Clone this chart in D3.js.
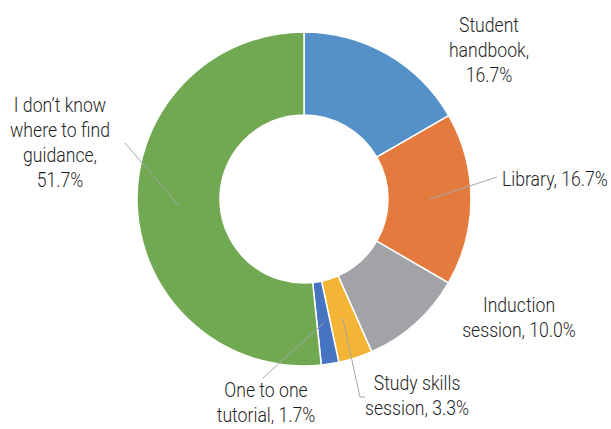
<!DOCTYPE html>
<html>
<head>
    <meta charset="utf-8" />
    <title>Guidance sources donut</title>
    <style>
        body { margin: 0; background: #fff; }
        .label { font-family: "Roboto", sans-serif; font-size: 21px; font-weight: 300; fill: #1f1f1f; }
        .leader { fill: none; stroke: #a6a6a6; stroke-width: 1px; }
    </style>
    <script src="https://cdn.jsdelivr.net/npm/d3@7"></script>
</head>
<body>
<script>
    // data
    const categories = ["Student handbook", "Library", "Induction session",
        "Study skills session", "One to one tutorial", "I don\u2019t know where to find guidance"];
    const values = [16.7, 16.7, 10.0, 3.3, 1.7, 51.7];
    const colors = ["#5591c9", "#e57a3e", "#a2a3a6", "#f4b536", "#4674c0", "#71a852"];
    // label lines as they are broken in the picture
    const labelLines = [
        ["Student", "handbook,", "16.7%"],
        ["Library, 16.7%"],
        ["Induction", "session, 10.0%"],
        ["Study skills", "session, 3.3%"],
        ["One to one", "tutorial, 1.7%"],
        ["I don\u2019t know", "where to find", "guidance,", "51.7%"]
    ];

    const width = 611, height = 429;
    const cx = 304, cy = 199, outerR = 167, innerR = 84;
    const squeeze = 0.84; // the picture uses a condensed face

    // label layout: text anchor point, anchor, and leader elbow (null = no leader)
    const labelLayout = [
        { x: 489, y: 32, anchor: "middle", leader: null },
        { x: 502, y: 186, anchor: "start", leader: [[497, 177]] },
        { x: 519, y: 312, anchor: "middle", leader: null },
        { x: 417, y: 390, anchor: "middle", leader: [[360, 397], [365, 397]] },
        { x: 266, y: 397, anchor: "middle", leader: [[263, 378]] },
        { x: 60, y: 112, anchor: "middle", leader: [[125, 143]] }
    ];

    const svg = d3.select("body").append("svg")
        .attr("width", width)
        .attr("height", height);

    const g = svg.append("g")
        .attr("transform", "translate(" + cx + "," + cy + ")");

    const pie = d3.pie().sort(null).value(d => d);
    const arcs = pie(values);
    const arc = d3.arc().innerRadius(innerR).outerRadius(outerR);

    g.selectAll("path.slice")
        .data(arcs)
        .enter().append("path")
        .attr("class", "slice")
        .attr("d", arc)
        .attr("fill", (d, i) => colors[i])
        .attr("stroke", "#fff")
        .attr("stroke-width", 1.5);

    // leader lines from slice centroid to the label
    arcs.forEach((d, i) => {
        const lay = labelLayout[i];
        if (!lay.leader) return;
        const c = arc.centroid(d);
        const pts = [[c[0] + cx, c[1] + cy]].concat(lay.leader);
        svg.append("path")
            .attr("class", "leader")
            .attr("d", d3.line()(pts));
    });

    labelLayout.forEach((lay, i) => {
        const t = svg.append("text")
            .attr("class", "label")
            .attr("text-anchor", lay.anchor)
            .attr("transform", "translate(" + lay.x + "," + lay.y + ") scale(" + squeeze + ",1)");
        labelLines[i].forEach((line, j) => {
            t.append("tspan")
                .attr("x", 0)
                .attr("y", j * 25)
                .text(line);
        });
    });
</script>
</body>
</html>
